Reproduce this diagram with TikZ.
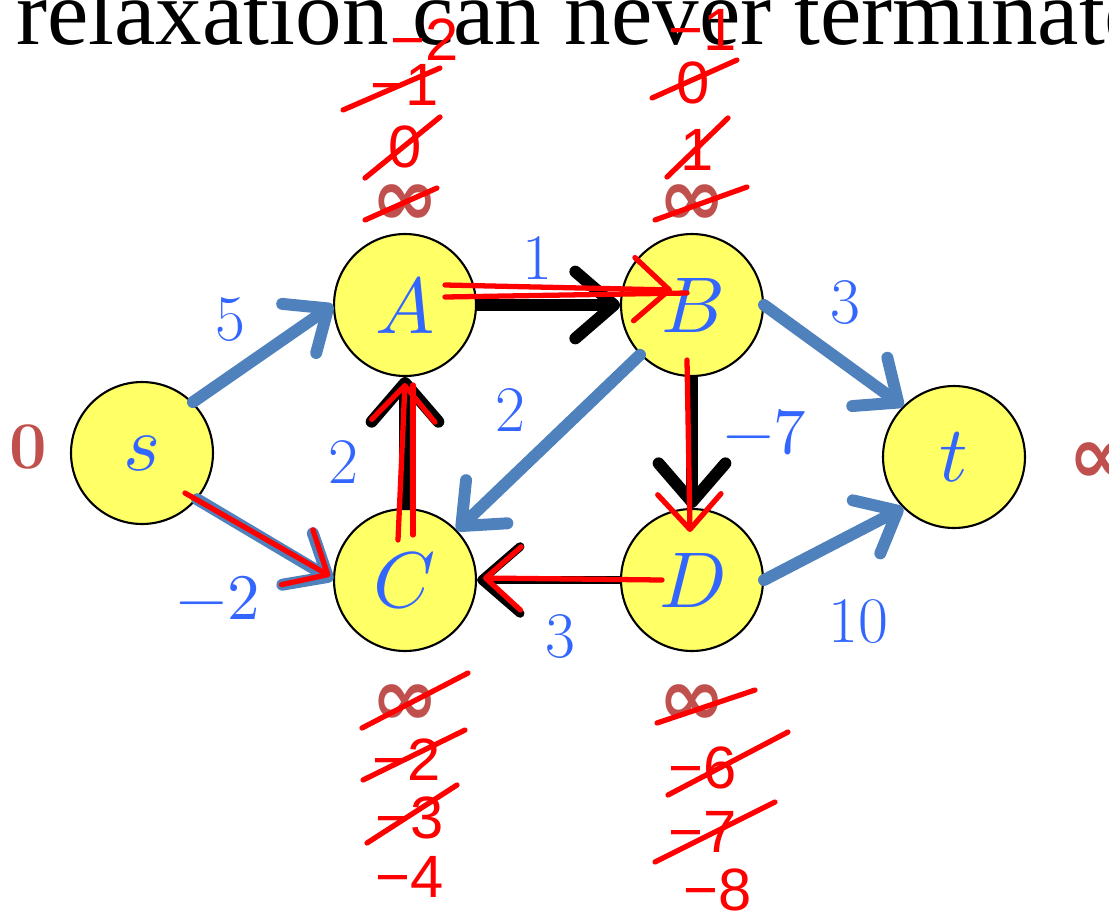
\documentclass[tikz,border=0pt]{standalone}
\usepackage{fontspec}
\usepackage{unicode-math}
\setmathfont{Latin Modern Math}
\newfontfamily\titlefont{Liberation Serif}
\newfontfamily\handfont{Liberation Sans}
\newfontfamily\symfont{DejaVu Sans}
\usetikzlibrary{arrows.meta,calc}
\definecolor{nodeyellow}{HTML}{FFFF66}
\definecolor{edgeblue}{HTML}{4F81BD}
\definecolor{labelblue}{HTML}{3366FF}
\definecolor{distred}{HTML}{C0504D}
\begin{document}
\begin{tikzpicture}[x=0.02cm,y=-0.02cm,
  vertex/.style={draw,circle,fill=nodeyellow,line width=1.2pt,minimum size=2.84cm,inner sep=0pt,text=labelblue,font=\fontsize{45}{45}\selectfont},
  bluearrow/.style={draw=edgeblue,line width=6.8pt,line cap=round,-{Straight Barb[round,length=20pt,width=34pt]}},
  blackarrow/.style={draw=black,line width=6.8pt,-{Straight Barb[round,length=22pt,width=38pt]}},
  weight/.style={text=labelblue,font=\fontsize{37}{37}\selectfont},
  dist/.style={text=distred,font=\symfont\bfseries\fontsize{46}{46}\selectfont},
  scribble/.style={draw=red,line width=3pt,line cap=round,line join=round},
  scribblehead/.style={scribble,-{Straight Barb[round,length=20pt,width=36pt]}},
  hand/.style={text=red,font=\handfont\fontsize{34}{34}\selectfont}]
\useasboundingbox (0,0) rectangle (1109,917);
\clip (0,0) rectangle (1109,917);
% title line, cut off by the frame
\node[anchor=base west,inner sep=0pt,font=\titlefont\fontsize{53}{53}\selectfont] (title) at (16,44) {relaxation can never terminate};
% vertices
\node[vertex] (s) at (142,453) {$s$};
\node[vertex] (A) at (405,305) {$A$};
\node[vertex] (B) at (692,305) {$B$};
\node[vertex] (C) at (405,580) {$C$};
\node[vertex] (D) at (692,580) {$D$};
\node[vertex] (t) at (954,457) {$t$};
% edges
\draw[bluearrow] (s.45) -- (A.west);
\draw[bluearrow] (s.-40) -- (C.west);
\draw[bluearrow] (B) -- (C);
\draw[bluearrow] (B.east) -- (t.135);
\draw[bluearrow] (D.east) -- (t.225);
\draw[blackarrow] (A) -- (B);
\draw[blackarrow] (C) -- (A);
\draw[blackarrow] (B) -- (D);
\draw[blackarrow,line width=5pt] (D) -- (C);
% weights
\node[weight] (w5) at (230,320) {5};
\node[weight] (w2a) at (343,462) {2};
\node[weight] (wm2) at (218,598) {$-2$};
\node[weight] (w1) at (537,258) {1};
\node[weight] (w2b) at (510,410) {2};
\node[weight] (w3a) at (845,303) {3};
\node[weight] (wm7) at (765,432) {$-7$};
\node[weight] (w3b) at (560,637) {3};
\node[weight] (w10) at (858,622) {10};
% distances
\node[dist,font=\bfseries\fontsize{38}{38}\selectfont] (ds) at (28,447) {0};
\node[dist] (dt) at (1102,463) {∞};
\node[dist] (dA) at (405,205) {∞};
\node[dist] (dB) at (692,205) {∞};
\node[dist] (dC) at (405,705) {∞};
\node[dist] (dD) at (692,705) {∞};
% scribbled relaxations
\draw[scribblehead] ($(A)+(40,-20)$) -- ($(B)+(-20,-15)$);
\draw[scribble] ($(A)+(40,-8)$) -- ($(B)+(-5,-12)$);
\draw[scribblehead] ($(C)+(-7,-40)$) -- ($(A)+(0,78)$);
\draw[scribble] ($(C)+(8,-45)$) -- ($(A)+(8,80)$);
\draw[scribblehead] ($(B)+(-5,55)$) -- ($(D)+(-2,-48)$);
\draw[scribblehead] ($(D)+(-30,0)$) -- ($(C)+(78,-2)$);
\draw[scribblehead] ($(s)+(43,40)$) -- ($(C)+(-75,-4)$);
% values above and below the vertices
\node[hand] (a0) at (405,147) {0};
\node[hand] (a1) at (405,85) {−1};
\node[hand] (a2) at (425,40) {−2};
\node[hand] (b1) at (697,150) {1};
\node[hand] (b0) at (693,83) {0};
\node[hand] (bm1) at (703,30) {−1};
\node[hand] (c2) at (407,760) {−2};
\node[hand] (c3) at (410,818) {−3};
\node[hand] (c4) at (410,877) {−4};
\node[hand] (d6) at (703,768) {−6};
\node[hand] (d7) at (703,832) {−7};
\node[hand] (d8) at (718,890) {−8};
% strike-outs
\draw[scribble] (365,220) -- (437,188);
\draw[scribble] (365,178) -- (440,117);
\draw[scribble] (343,110) -- (440,68);
\draw[scribble] (655,220) -- (747,187);
\draw[scribble] (667,177) -- (728,118);
\draw[scribble] (652,98) -- (737,60);
\draw[scribble] (362,728) -- (468,673);
\draw[scribble] (363,780) -- (465,730);
\draw[scribble] (367,843) -- (457,785);
\draw[scribble] (657,723) -- (755,690);
\draw[scribble] (668,795) -- (788,732);
\draw[scribble] (655,862) -- (775,802);
\end{tikzpicture}
\end{document}
